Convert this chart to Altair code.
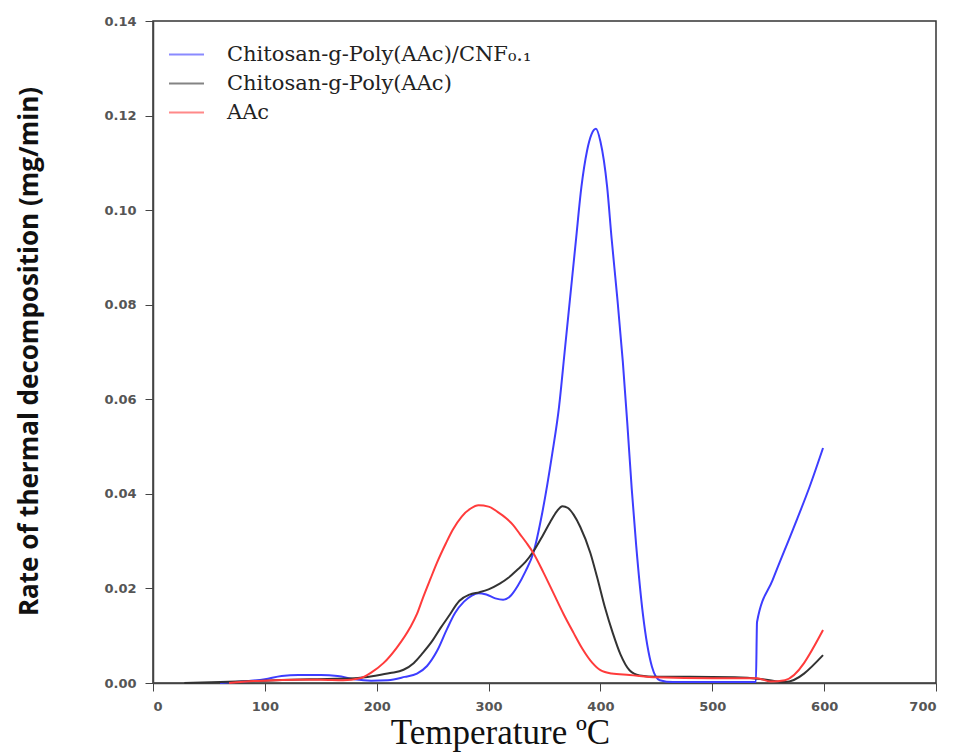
import altair as alt
import pandas as pd

S_BLUE = "Chitosan-g-Poly(AAc)/CNF₀.₁"
S_BLACK = "Chitosan-g-Poly(AAc)"
S_RED = "AAc"

blue_x = [60, 80, 100, 115, 130, 150, 165, 180, 195, 210, 225, 236, 245, 254, 263, 270, 278, 285, 291, 298, 306,
          313, 320, 326, 333, 340, 348, 357, 363, 368, 373, 378, 383, 388, 392, 396, 400, 406, 410, 415, 420, 424,
          428, 432, 438, 446, 453, 465, 500, 539, 540, 554, 572, 587, 599]
blue_y = [0.0, 0.0003, 0.0008, 0.0015, 0.0017, 0.0017, 0.0015, 0.0008, 0.0005, 0.0006, 0.0013, 0.002, 0.0036,
          0.0068, 0.0115, 0.0148, 0.0172, 0.0185, 0.019, 0.0187, 0.0179, 0.0176, 0.0185, 0.0205, 0.0236, 0.0275,
          0.036, 0.0486, 0.0584, 0.07, 0.0817, 0.0934, 0.1049, 0.1125, 0.116, 0.1172, 0.1145, 0.1049, 0.094,
          0.0816, 0.068, 0.055, 0.041, 0.029, 0.0145, 0.0035, 0.0006, 0.0002, 0.0002, 0.0002, 0.0129, 0.0218,
          0.0324, 0.0415, 0.0497]

black_x = [28, 60, 100, 140, 180, 200, 212, 224, 233, 241, 250, 257, 264, 274, 283, 292, 300, 310, 318, 325, 333,
           340, 348, 355, 361, 366, 371, 376, 382, 391, 397, 404, 411, 418, 426, 435, 450, 480, 520, 545, 565, 599]
black_y = [0.0, 0.0002, 0.0005, 0.0008, 0.001, 0.0016, 0.0021, 0.0028, 0.0042, 0.0063, 0.009, 0.0116, 0.014,
           0.0174, 0.0187, 0.0192, 0.0198, 0.021, 0.0223, 0.0238, 0.0256, 0.0278, 0.031, 0.034, 0.0363, 0.0374,
           0.037, 0.0356, 0.033, 0.0275, 0.0224, 0.016, 0.0106, 0.006, 0.0027, 0.0016, 0.0013, 0.0013, 0.0012,
           0.0008, 0.0002, 0.0059]

red_x = [68, 90, 110, 130, 150, 170, 185, 195, 206, 218, 230, 236, 241, 248, 254, 262, 268, 276, 284, 291, 300,
         308, 316, 322, 328, 334, 340, 349, 358, 367, 376, 384, 393, 400, 410, 426, 450, 500, 540, 552, 565, 599]
red_y = [0.0, 0.0004, 0.0006, 0.0007, 0.0007, 0.0006, 0.001, 0.0022, 0.0042, 0.0075, 0.0118, 0.0146, 0.0178,
         0.022, 0.0255, 0.0296, 0.0324, 0.0352, 0.0369, 0.0376, 0.0373, 0.0362, 0.0348, 0.0334, 0.0315, 0.0296,
         0.0275, 0.0234, 0.019, 0.0146, 0.0106, 0.0072, 0.0042, 0.0027, 0.002, 0.0017, 0.0012, 0.001, 0.001,
         0.0003, 0.0006, 0.0112]

x_ticks = [0, 100, 200, 300, 400, 500, 600, 700]
y_ticks = [0.0, 0.02, 0.04, 0.06, 0.08, 0.10, 0.12, 0.14]

series = [S_BLUE, S_BLACK, S_RED]
colors = ["#3d3dff", "#333333", "#ff3b3b"]

rows = []
for name, xs, ys in [(S_BLUE, blue_x, blue_y), (S_BLACK, black_x, black_y), (S_RED, red_x, red_y)]:
    for i, (a, b) in enumerate(zip(xs, ys)):
        rows.append({"series": name, "T": a, "rate": b, "order": i})
df = pd.DataFrame(rows)

chart = alt.Chart(df).mark_line(strokeWidth=2, interpolate="monotone").encode(
    x=alt.X("T:Q", scale=alt.Scale(domain=[0, 700], nice=False),
            axis=alt.Axis(values=x_ticks, title="Temperature ºC", titleFont="Liberation Serif",
                          titleFontSize=35, titleFontWeight="normal", titleColor="#111",
                          titleX=347, titleY=60, titleAnchor="middle", titleBaseline="alphabetic")),
    y=alt.Y("rate:Q", scale=alt.Scale(domain=[0, 0.14], nice=False),
            axis=alt.Axis(values=y_ticks, format=".2f", title="Rate of thermal decomposition (mg/min)",
                          titleFont="Open Sans", titleFontSize=26, titleFontWeight="bold", titleColor="#111",
                          titleX=-124, titleY=330, titleAngle=-90, titleAlign="center",
                          titleBaseline="middle", titleAnchor="middle")),
    color=alt.Color("series:N", scale=alt.Scale(domain=series, range=colors),
                    legend=alt.Legend(title=None, orient="none", legendX=15, legendY=15,
                                      symbolType="stroke", symbolSize=1225, symbolStrokeWidth=2,
                                      symbolOpacity=0.6, labelFont="DejaVu Serif", labelFontSize=21,
                                      labelColor="#222", labelOffset=22, rowPadding=0, labelLimit=600)),
    order="order:Q",
).properties(
    width=783, height=662,
    autosize=alt.AutoSizeParams(type="none"),
    padding={"left": 145, "top": 13, "right": 11, "bottom": 72},
).configure_view(
    stroke="#333", strokeWidth=1.5
).configure_axis(
    grid=False, labelFont="DejaVu Sans", labelFontSize=13, labelFontWeight="bold",
    labelColor="#555", tickColor="#444", tickSize=8, domainColor="#444", domainWidth=1.5,
    labelPadding=9
)

chart.save("out.html", embed_options={"renderer": "svg", "actions": False})
